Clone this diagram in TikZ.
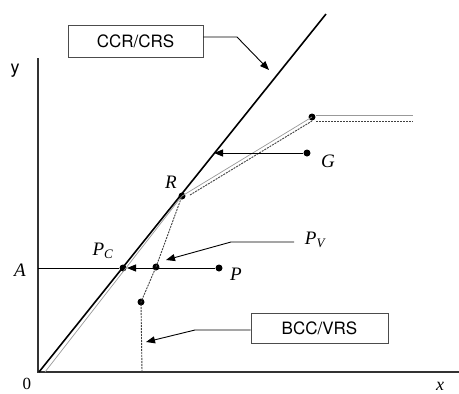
\documentclass[tikz,border=0pt]{standalone}
\usepackage{fontspec}
\setmainfont{Liberation Serif}
\newfontfamily\boxfont{TeX Gyre Heros}
\usetikzlibrary{arrows.meta}
\begin{document}
\begin{tikzpicture}[x=1pt,y=-1pt,
  axis/.style={line width=1.3pt,draw=black!80},
  frontier/.style={line width=1.6pt,draw=black},
  greyline/.style={line width=0.7pt,draw=black!40},
  dotline/.style={line width=0.9pt,draw=black!75,dash pattern=on 2pt off 1pt},
  pt/.style={circle,fill=black,inner sep=0pt,minimum size=7pt},
  lbl/.style={font=\fontsize{19}{19}\selectfont\itshape,inner sep=0pt},
  boxlbl/.style={draw=black!70,line width=0.8pt,font=\boxfont\fontsize{17}{17}\selectfont,inner sep=0pt},
  arr/.style={line width=0.9pt,-{Triangle[length=9pt,width=7pt]}}]
\useasboundingbox (0,0) rectangle (459,394);
% axes
\coordinate (O) at (39,372);
\coordinate (Ytop) at (38,58);
\coordinate (Xend) at (459,372);
\draw[axis] (Ytop) -- (38,372) -- (Xend);
\node[font=\boxfont\fontsize{18}{18}\selectfont,inner sep=0pt] (ylab) at (15,71) {y};
\node[font=\fontsize{17}{17}\selectfont,inner sep=0pt] (zero) at (27,384) {0};
\node[lbl,font=\fontsize{18}{18}\selectfont\itshape] (xlab) at (440,386) {x};
% points
\node[pt] (R) at (182,196) {};
\node[pt] (T) at (312,117) {};
\node[pt] (G) at (307,153) {};
\node[pt] (Pc) at (123,268) {};
\node[pt] (Pv) at (156,267) {};
\node[pt] (P) at (219,268) {};
\node[pt] (L) at (141,302) {};
\coordinate (Ctop) at (326,14);
\coordinate (Gs) at (45,372);
\coordinate (Ax) at (38,268);
\coordinate (Vbot) at (142,372);
\coordinate (Hg1) at (316,115);
\coordinate (Hg2) at (413,115);
\coordinate (Hd1) at (316,121);
\coordinate (Hd2) at (413,121);
\coordinate (Ds) at (190,195);
\coordinate (De) at (312,121);
\coordinate (Gtip) at (214,153);
\coordinate (Ptip) at (127,268);
% grey VRS/CRS line
\draw[greyline] (Gs) -- (R.center) -- (T.center);
\draw[greyline] (Hg1) -- (Hg2);
% dotted BCC frontier
\draw[dotline] (Vbot) -- (L.center) -- (Pv.center) -- (R.center);
\draw[dotline] (Ds) -- (De);
\draw[dotline] (Hd1) -- (Hd2);
% CCR frontier
\draw[frontier] (O) -- (Ctop);
% horizontal line A-P
\draw[line width=1pt] (Ax) -- (Pc);
\draw[arr] (P) -- (Ptip);
\draw[arr] (G) -- (Gtip);
% labels
\node[lbl] (Alab) at (20,270) {A};
\node[lbl] (Pclab) at (103,251) {P\textsubscript{\fontsize{13}{13}\selectfont C}};
\node[lbl] (Plab) at (236,274) {P};
\node[lbl] (Rlab) at (171,182) {R};
\node[lbl] (Glab) at (328,161) {G};
\node[lbl] (Pvlab) at (315,240) {P\textsubscript{\fontsize{13}{13}\selectfont V}};
% boxes
\node[boxlbl,minimum width=135pt,minimum height=32pt] (ccr) at (135.5,41) {CCR/CRS};
\node[boxlbl,minimum width=137pt,minimum height=30pt] (bcc) at (319.5,328) {BCC/VRS};
\coordinate (c1) at (237,37);
\coordinate (c2) at (269,70);
\draw[arr] (ccr.east |- c1) -- (c1) -- (c2);
\coordinate (v0) at (294,242);
\coordinate (v1) at (231,242);
\coordinate (v2) at (166,260);
\draw[arr] (v0) -- (v1) -- (v2);
\coordinate (b1) at (195,330);
\coordinate (b2) at (146,342);
\draw[arr] (bcc.west |- b1) -- (b1) -- (b2);
\end{tikzpicture}
\end{document}
